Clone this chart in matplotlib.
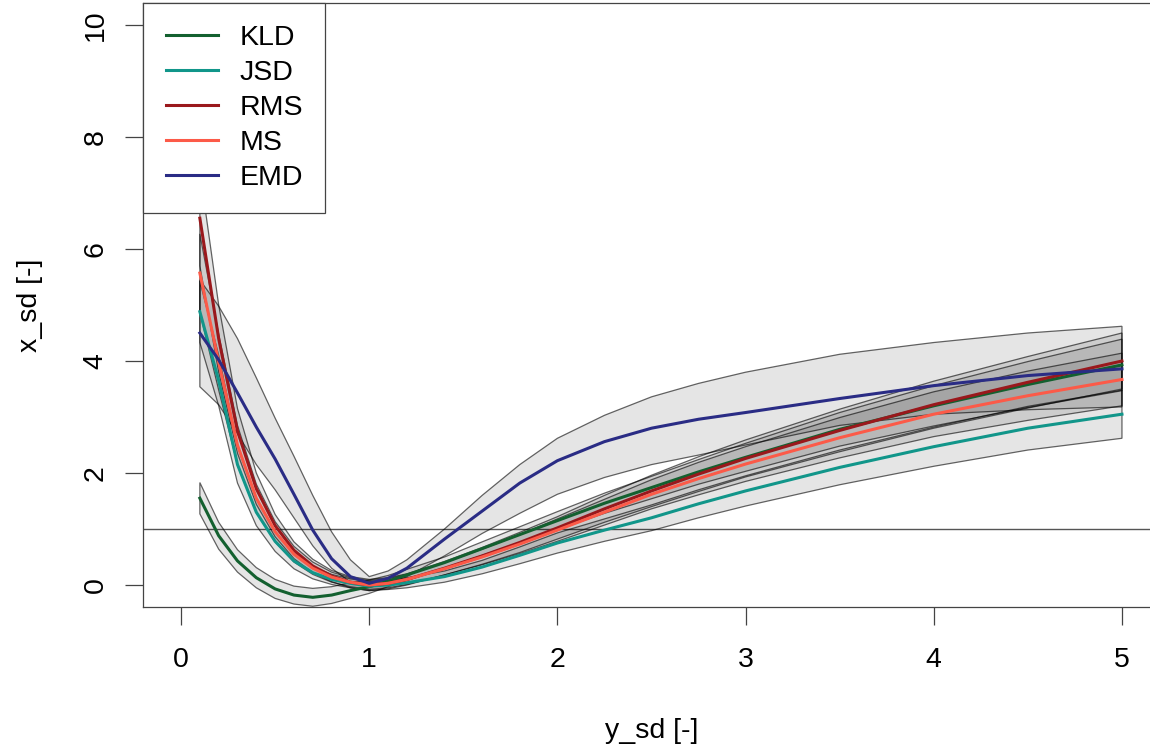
import matplotlib
matplotlib.use("Agg")
import matplotlib.pyplot as plt

plt.rcParams['font.family'] = ['Liberation Sans', 'DejaVu Sans']

# y_sd grid shared by all series
y_sd = [0.1, 0.2, 0.3, 0.4, 0.5, 0.6, 0.7, 0.8, 0.9, 1.0, 1.1, 1.2,
        1.4, 1.6, 1.8, 2.0, 2.25, 2.5, 2.75, 3.0, 3.5, 4.0, 4.5, 5.0]

kld = [1.55, 0.88, 0.43, 0.13, -0.07, -0.18, -0.22, -0.18, -0.10, -0.03, 0.07, 0.18,
       0.40, 0.65, 0.90, 1.15, 1.46, 1.74, 2.02, 2.28, 2.78, 3.20, 3.58, 3.93]
kld_lo = [1.27, 0.64, 0.23, -0.05, -0.24, -0.34, -0.38, -0.33, -0.24, -0.15, -0.03, 0.08,
          0.30, 0.53, 0.76, 0.99, 1.28, 1.54, 1.80, 2.03, 2.48, 2.84, 3.17, 3.47]
kld_hi = [1.83, 1.12, 0.63, 0.31, 0.10, -0.02, -0.06, -0.03, 0.04, 0.09, 0.17, 0.28,
          0.50, 0.77, 1.04, 1.31, 1.64, 1.94, 2.24, 2.53, 3.08, 3.56, 3.99, 4.39]

jsd = [4.88, 3.65, 2.15, 1.30, 0.78, 0.43, 0.22, 0.10, 0.03, -0.02, 0.00, 0.04,
       0.15, 0.32, 0.53, 0.75, 0.98, 1.20, 1.45, 1.68, 2.10, 2.47, 2.80, 3.05]
jsd_lo = [4.33, 3.20, 1.82, 1.06, 0.60, 0.29, 0.11, 0.01, -0.05, -0.10, -0.08, -0.05,
          0.05, 0.20, 0.38, 0.57, 0.78, 0.97, 1.20, 1.41, 1.79, 2.12, 2.41, 2.62]
jsd_hi = [5.43, 4.10, 2.48, 1.54, 0.96, 0.57, 0.33, 0.19, 0.11, 0.06, 0.08, 0.13,
          0.25, 0.44, 0.68, 0.93, 1.18, 1.43, 1.70, 1.95, 2.41, 2.82, 3.19, 3.48]

rms = [6.55, 4.40, 2.75, 1.72, 1.06, 0.62, 0.34, 0.16, 0.05, 0.00, 0.03, 0.10,
       0.30, 0.52, 0.76, 1.02, 1.36, 1.68, 1.98, 2.26, 2.76, 3.22, 3.62, 4.00]
rms_lo = [5.70, 3.80, 2.35, 1.44, 0.86, 0.47, 0.22, 0.06, -0.05, -0.10, -0.07, 0.00,
          0.18, 0.37, 0.58, 0.82, 1.12, 1.40, 1.67, 1.93, 2.38, 2.80, 3.16, 3.50]
rms_hi = [7.40, 5.00, 3.15, 2.00, 1.26, 0.77, 0.46, 0.26, 0.15, 0.10, 0.13, 0.20,
          0.42, 0.67, 0.94, 1.22, 1.60, 1.96, 2.29, 2.59, 3.14, 3.64, 4.08, 4.50]

ms = [5.57, 3.98, 2.50, 1.55, 0.95, 0.55, 0.30, 0.14, 0.05, 0.00, 0.03, 0.10,
      0.29, 0.50, 0.73, 0.98, 1.30, 1.62, 1.90, 2.16, 2.63, 3.05, 3.38, 3.67]
ms_lo = [4.87, 3.48, 2.15, 1.30, 0.77, 0.41, 0.19, 0.05, -0.03, -0.08, -0.05, 0.01,
         0.18, 0.36, 0.56, 0.78, 1.07, 1.36, 1.61, 1.85, 2.27, 2.65, 2.94, 3.20]
ms_hi = [6.27, 4.48, 2.85, 1.80, 1.13, 0.69, 0.41, 0.23, 0.13, 0.08, 0.11, 0.19,
         0.40, 0.64, 0.90, 1.18, 1.53, 1.88, 2.19, 2.47, 2.99, 3.45, 3.82, 4.14]

emd = [4.50, 4.02, 3.43, 2.82, 2.25, 1.62, 0.98, 0.47, 0.15, 0.03, 0.12, 0.30,
       0.82, 1.32, 1.82, 2.22, 2.56, 2.80, 2.96, 3.08, 3.33, 3.56, 3.74, 3.86]
emd_lo = [3.54, 3.22, 2.70, 2.15, 1.70, 1.20, 0.70, 0.30, 0.05, -0.04, 0.02, 0.15,
          0.52, 0.92, 1.28, 1.62, 1.92, 2.15, 2.32, 2.50, 2.85, 3.05, 3.13, 3.18]
emd_hi = [5.45, 4.98, 4.40, 3.70, 2.98, 2.30, 1.60, 0.95, 0.45, 0.15, 0.25, 0.45,
          1.00, 1.60, 2.15, 2.62, 3.03, 3.36, 3.60, 3.80, 4.12, 4.33, 4.50, 4.62]

labels = ["KLD", "JSD", "RMS", "MS", "EMD"]
colors = ["#13602f", "#11968a", "#9a181c", "#fc5a48", "#2a2c85"]
means = [kld, jsd, rms, ms, emd]
lows = [kld_lo, jsd_lo, rms_lo, ms_lo, emd_lo]
highs = [kld_hi, jsd_hi, rms_hi, ms_hi, emd_hi]

fig = plt.figure(figsize=(11.5, 7.51), dpi=100)
ax = fig.add_axes([143.4/1150, (751-607.4)/751, (1159.6-143.4)/1150, (607.4-2.6)/751])

# bands (polygon with border, like R's polygon())
for lo, hi in zip(lows, highs):
    px = y_sd + y_sd[::-1]
    py = lo + hi[::-1]
    ax.fill(px, py, facecolor=(0, 0, 0, 0.1), edgecolor=(0, 0, 0, 0.6), linewidth=0.9, zorder=2)

ax.axhline(1, color="#555555", linewidth=1.0, zorder=1)

for m, c, lab in zip(means, colors, labels):
    ax.plot(y_sd, m, color=c, linewidth=2.2, label=lab, zorder=3)

ax.set_xlim(-0.2, 5.2)
ax.set_ylim(-0.4, 10.4)
ax.set_xticks([0, 1, 2, 3, 4, 5])
ax.set_yticks([0, 2, 4, 6, 8, 10])
ax.tick_params(direction='out', length=13, width=0.9, color='#444444', labelsize=20.5)
ax.tick_params(axis='x', pad=15.5)
ax.tick_params(axis='y', pad=12)
for t in ax.get_yticklabels():
    t.set_rotation(90)
    t.set_va('center')
for s in ax.spines.values():
    s.set_color('#444444')
    s.set_linewidth(0.9)

fig.text(651.5/1150, 1 - 731/751, "y_sd [-]", ha='center', va='center', fontsize=20.5)
fig.text(30/1150, 1 - 305/751, "x_sd [-]", ha='center', va='center', rotation=90, fontsize=20.5)

leg = ax.legend(loc='upper left', bbox_to_anchor=(0, 1), borderaxespad=0, fontsize=20.5,
                handlelength=1.85, handletextpad=0.75, borderpad=0.78, labelspacing=0.32,
                fancybox=False, framealpha=1)
leg.get_frame().set_edgecolor('#444444')
leg.get_frame().set_linewidth(0.9)
leg.set_zorder(5)

plt.savefig("out.png", dpi=100)
